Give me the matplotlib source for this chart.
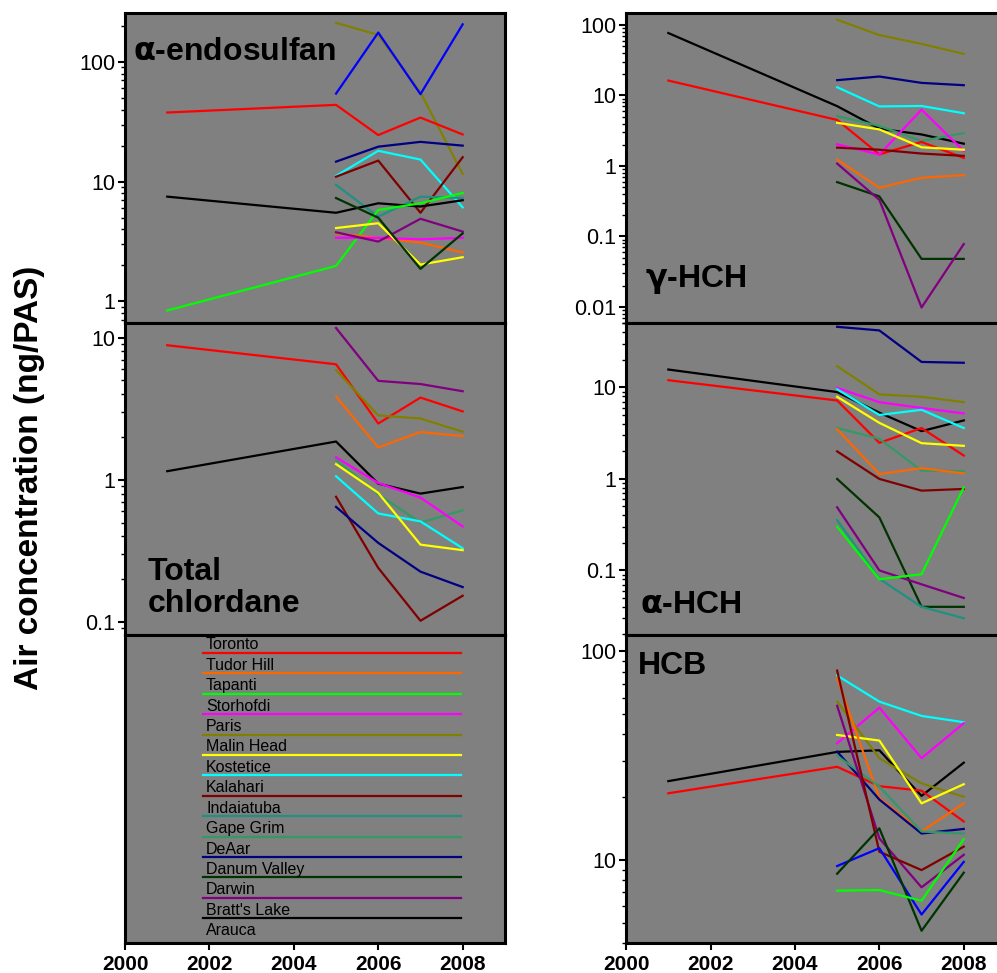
import numpy as np
import matplotlib.pyplot as plt
from matplotlib.ticker import LogLocator, NullFormatter, FormatStrFormatter

plt.rcParams['font.family'] = ['Liberation Sans', 'DejaVu Sans']

nan = np.nan
years = [2001, 2005, 2006, 2007, 2008]
sites = ['Toronto', 'Tudor Hill', 'Tapanti', 'Storhofdi', 'Paris', 'Malin Head', 'Kostetice',
         'Kalahari', 'Indaiatuba', 'Gape Grim', 'DeAar', 'Danum Valley', 'Darwin', "Bratt's Lake", 'Arauca']
colors = {'Toronto': '#FF0000', 'Tudor Hill': '#FF6600', 'Tapanti': '#00FF00', 'Storhofdi': '#FF00FF',
          'Paris': '#808000', 'Malin Head': '#FFFF00', 'Kostetice': '#00FFFF', 'Kalahari': '#800000',
          'Indaiatuba': '#209080', 'Gape Grim': '#339966', 'DeAar': '#000080', 'Danum Valley': '#003300',
          'Darwin': '#800080', "Bratt's Lake": '#000000', 'Arauca': '#0000FF'}

endosulfan = {
    'Paris': [nan, 212, 168, 55.6, 11.6],
    'Arauca': [nan, 54.4, 176, 53.8, 206],
    'Toronto': [37.8, 43.8, 24.5, 34.3, 24.8],
    'DeAar': [nan, 14.7, 19.6, 21.5, 20.0],
    'Kostetice': [nan, 11.2, 18.1, 15.3, 6.1],
    'Kalahari': [nan, 11.0, 15.0, 5.5, 16.0],
    'Indaiatuba': [nan, 9.4, 5.1, 7.5, 7.3],
    "Bratt's Lake": [7.5, 5.5, 6.6, 6.2, 7.0],
    'Tapanti': [0.84, 1.98, 5.8, 6.6, 8.05],
    'Tudor Hill': [nan, 3.7, 3.4, 3.1, 2.56],
    'Storhofdi': [nan, 3.4, 3.4, 3.3, 3.4],
    'Darwin': [nan, 3.78, 3.16, 4.9, 3.83],
    'Malin Head': [nan, 4.1, 4.5, 2.03, 2.34],
    'Danum Valley': [nan, 7.3, 5.0, 1.87, 3.7],
}

gamma_hch = {
    'Paris': [nan, 119, 72, 54, 39],
    'DeAar': [nan, 16.5, 18.6, 15.1, 14.0],
    'Kostetice': [nan, 13.1, 7.0, 7.1, 5.6],
    "Bratt's Lake": [77, 7.06, 3.38, 2.8, 2.07],
    'Gape Grim': [nan, 5.1, 3.7, 2.26, 2.93],
    'Toronto': [16.3, 4.5, 1.46, 2.19, 1.3],
    'Storhofdi': [nan, 2.03, 1.45, 6.3, 1.63],
    'Kalahari': [nan, 1.82, 1.70, 1.50, 1.39],
    'Malin Head': [nan, 4.1, 3.3, 1.84, 1.7],
    'Tudor Hill': [nan, 1.23, 0.49, 0.68, 0.74],
    'Danum Valley': [nan, 0.59, 0.37, 0.048, 0.048],
    'Darwin': [nan, 1.08, 0.33, 0.0098, 0.078],
}

chlordane = {
    'Toronto': [8.85, 6.5, 2.49, 3.79, 3.03],
    'Darwin': [nan, 11.7, 4.97, 4.72, 4.2],
    'Paris': [nan, 5.9, 2.84, 2.7, 2.18],
    'Tudor Hill': [nan, 3.85, 1.69, 2.17, 2.03],
    "Bratt's Lake": [1.15, 1.86, 0.94, 0.80, 0.89],
    'Gape Grim': [nan, 1.38, 0.79, 0.50, 0.61],
    'Storhofdi': [nan, 1.44, 0.95, 0.75, 0.47],
    'Kostetice': [nan, 1.06, 0.58, 0.51, 0.33],
    'Malin Head': [nan, 1.29, 0.81, 0.35, 0.32],
    'Kalahari': [nan, 0.76, 0.24, 0.102, 0.153],
    'DeAar': [nan, 0.645, 0.36, 0.226, 0.176],
}

alpha_hch = {
    'DeAar': [nan, 46, 42, 19, 18.6],
    'Paris': [nan, 17.1, 8.4, 7.9, 6.9],
    "Bratt's Lake": [15.7, 8.9, 5.3, 3.33, 4.36],
    'Toronto': [12.0, 7.2, 2.48, 3.6, 1.8],
    'Storhofdi': [nan, 9.9, 6.9, 5.96, 5.2],
    'Kostetice': [nan, 9.55, 5.0, 5.7, 3.6],
    'Malin Head': [nan, 7.9, 4.1, 2.46, 2.3],
    'Gape Grim': [nan, 3.6, 2.75, 1.23, 1.22],
    'Tudor Hill': [nan, 3.5, 1.13, 1.31, 1.15],
    'Kalahari': [nan, 2.0, 1.0, 0.745, 0.777],
    'Danum Valley': [nan, 1.0, 0.38, 0.040, 0.040],
    'Darwin': [nan, 0.49, 0.10, 0.0705, 0.050],
    'Indaiatuba': [nan, 0.355, 0.081, 0.040, 0.030],
    'Tapanti': [nan, 0.30, 0.080, 0.091, 0.81],
}

hcb = {
    "Bratt's Lake": [23.9, 33, 33.6, 20.3, 29.3],
    'Toronto': [20.9, 28, 22.6, 21.5, 15.3],
    'Kostetice': [nan, 76.7, 57.5, 49.1, 45.8],
    'Storhofdi': [nan, 36.3, 53.8, 30.8, 45.3],
    'Paris': [nan, 57.5, 30.8, 23.3, 20.1],
    'Malin Head': [nan, 39.8, 37.4, 18.7, 23.1],
    'Tudor Hill': [nan, 74.5, 19.8, 13.7, 18.7],
    'DeAar': [nan, 33.1, 19.5, 13.4, 14.1],
    'Gape Grim': [nan, 31.6, 22.5, 13.7, 13.4],
    'Darwin': [nan, 54.9, 12.7, 7.4, 10.6],
    'Kalahari': [nan, 81, 10.96, 8.95, 11.6],
    'Arauca': [nan, 9.36, 11.4, 5.48, 9.8],
    'Danum Valley': [nan, 8.6, 14.2, 4.58, 8.7],
    'Tapanti': [nan, 7.13, 7.18, 6.38, 12.6],
}

fig = plt.figure(figsize=(9.97, 9.73), dpi=100)
bg = '#808080'

lx, rx = 0.1254, 0.628
w = 0.381
rows = [(0.668, 0.3186), (0.3474, 0.3207), (0.0308, 0.3166)]

panels = [
    (lx, 0, endosulfan, r'$\mathbf{\alpha}$-endosulfan', (0.02, 0.874), (0.66, 256)),
    (rx, 0, gamma_hch, r'$\mathbf{\gamma}$-HCH', (0.05, 0.142), (0.0059, 148)),
    (lx, 1, chlordane, 'Total\nchlordane', (0.06, 0.15), (0.081, 12.7)),
    (rx, 1, alpha_hch, r'$\mathbf{\alpha}$-HCH', (0.037, 0.096), (0.0197, 50.7)),
    (rx, 2, hcb, 'HCB', (0.032, 0.9), (4.0, 120)),
]


def style(ax, bottom_row):
    ax.set_facecolor(bg)
    for s in ax.spines.values():
        s.set_linewidth(2.2)
    ax.set_xlim(2000, 2009)
    ax.tick_params(which='major', length=5, width=1.5, direction='out')
    ax.tick_params(which='minor', length=3, width=1, direction='out')
    if bottom_row:
        ax.set_xticks([2000, 2002, 2004, 2006, 2008])
        ax.tick_params(axis='x', labelsize=15)
        for lab in ax.get_xticklabels():
            lab.set_fontweight('bold')
    else:
        ax.tick_params(axis='x', bottom=False, labelbottom=False)


for x0, r, data, title, tpos, ylim in panels:
    ax = fig.add_axes([x0, rows[r][0], w, rows[r][1]])
    style(ax, r == 2)
    for site, vals in data.items():
        ax.plot(years, vals, color=colors[site], lw=1.6)
    ax.set_yscale('log')
    ax.set_ylim(*ylim)
    ax.yaxis.set_major_locator(LogLocator(base=10))
    ax.yaxis.set_minor_locator(LogLocator(base=10, subs=np.arange(2, 10)))
    ax.yaxis.set_major_formatter(FormatStrFormatter('%g'))
    ax.yaxis.set_minor_formatter(NullFormatter())
    ax.tick_params(axis='y', labelsize=15.5, pad=2)
    ax.text(tpos[0], tpos[1], title, transform=ax.transAxes, fontsize=23,
            fontweight='bold', ha='left', va='center', linespacing=1.1)

# legend panel
lax = fig.add_axes([lx, rows[2][0], w, rows[2][1]])
style(lax, True)
lax.set_ylim(0, 1)
lax.set_yticks([])
step = 20.4 / 308
for i, site in enumerate(sites):
    yl = 1 - 18 / 308 - i * step
    if site != 'Arauca':
        lax.plot([2001.85, 2007.95], [yl, yl], color=colors[site], lw=1.6)
    lax.text(2001.92, yl + 0.026, site, fontsize=11.5, ha='left', va='center')

fig.text(0.03, 0.509, 'Air concentration (ng/PAS)', rotation=90, fontsize=24,
         fontweight='bold', ha='center', va='center')

fig.savefig('out.png', dpi=100, facecolor='white')
